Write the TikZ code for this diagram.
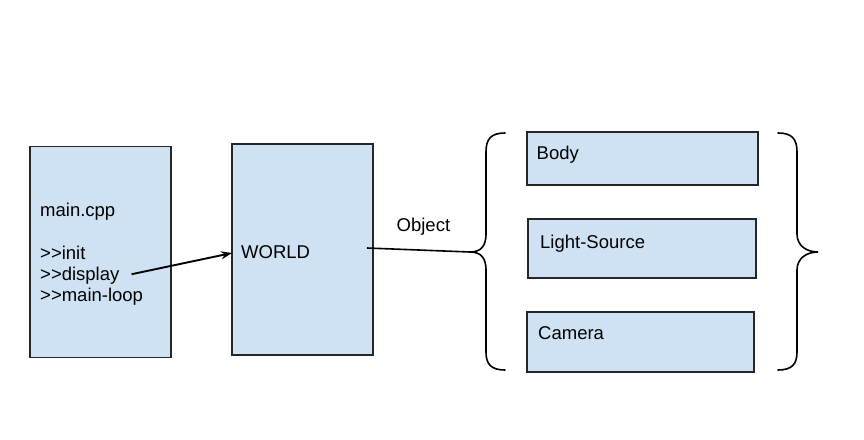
\documentclass[tikz,border=0pt]{standalone}
\usepackage{fontspec}
\setmainfont{Liberation Sans}
\usetikzlibrary{arrows.meta}
\definecolor{boxblue}{HTML}{CFE2F3}
\tikzset{
  box/.style={draw=black!85,fill=boxblue,line width=1.5pt,rectangle,outer sep=0pt,inner sep=0pt},
  lbl/.style={anchor=base west,inner sep=0pt,font=\fontsize{18.5}{21}\selectfont},
  brc/.style={line width=1.6pt,line cap=round}
}
\begin{document}
\begin{tikzpicture}[x=1pt,y=-1pt]
\useasboundingbox (0,0) rectangle (864,439);
\node[box,minimum width=141pt,minimum height=211pt] (main) at (100.5,252) {};
\node[box,minimum width=141pt,minimum height=211pt] (world) at (302.5,249.5) {};
\node[box,minimum width=231pt,minimum height=53pt] (body) at (642.5,158.5) {};
\node[box,minimum width=228pt,minimum height=59pt] (light) at (642,248.5) {};
\node[box,minimum width=227pt,minimum height=60pt] (camera) at (640.5,342) {};
\node[lbl] (maincpp) at (40,216) {main.cpp};
\node[lbl] (init) at (40,259) {>{}>init};
\node[lbl] (disp) at (40,280) {>{}>display};
\node[lbl] (loop) at (40,301.5) {>{}>main-loop};
\node[lbl] (worldtxt) at (241,258.3) {WORLD};
\node[lbl] (obj) at (396.5,231.7) {Object};
\node[lbl] (bodytxt) at (536.5,159) {Body};
\node[lbl] (lighttxt) at (540,248.3) {Light-Source};
\node[lbl] (camtxt) at (538,339) {Camera};
% braces
\coordinate (ltip) at (470,252);
\draw[brc] (505,133) .. controls (491,133) and (486,139) .. (486,152) -- (486,234)
  .. controls (486,246) and (481,252) .. (ltip)
  .. controls (481,252) and (486,258) .. (486,270) -- (486,352)
  .. controls (486,364) and (491,370) .. (505,370);
\draw[brc] (778,133) .. controls (792,133) and (797,139) .. (797,152) -- (797,234)
  .. controls (797,246) and (807,252) .. (818,252)
  .. controls (807,252) and (797,258) .. (797,270) -- (797,352)
  .. controls (797,364) and (792,370) .. (778,370);
\draw[line width=1.9pt,-{Stealth[length=11pt,width=8pt]}] ([xshift=12pt,yshift=1pt]disp.east) -- ([yshift=-3.5pt]world.west);
\draw[line width=1.6pt] ([xshift=-6pt,yshift=1.5pt]world.east) -- (ltip);
\end{tikzpicture}
\end{document}
